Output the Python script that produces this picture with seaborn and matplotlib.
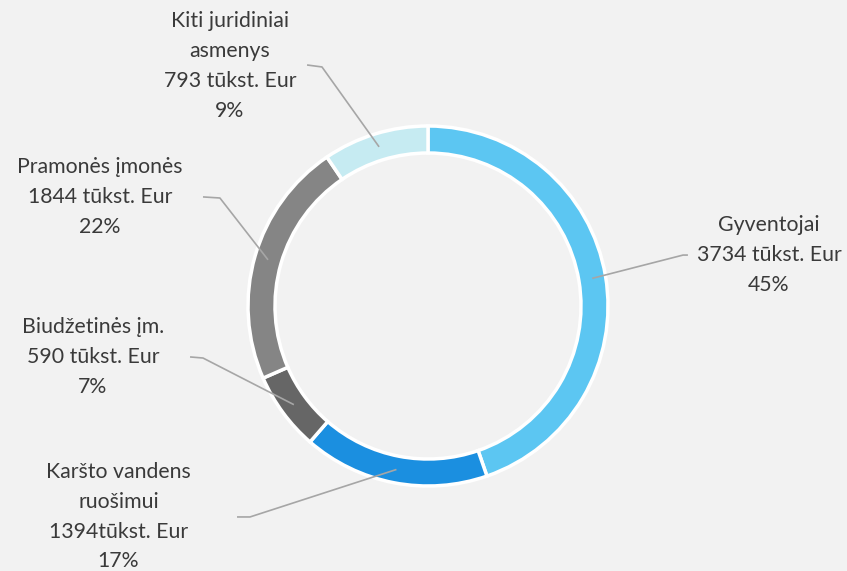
import numpy as np
import matplotlib
matplotlib.use("Agg")
import matplotlib.pyplot as plt
import seaborn as sns

# Data (clockwise from 12 o'clock)
names = ["Gyventojai", "Karšto vandens\nruošimui", "Biudžetinės įm.",
         "Pramonės įmonės", "Kiti juridiniai\nasmenys"]
values = [3734, 1394, 590, 1844, 793]
unit_sep = [" ", "", " ", " ", " "]   # the hot water label has no space
colors = ["#5cc6f2", "#1b8fe0", "#666666", "#858585", "#c6ebf2"]

# label layout (data units, donut radius = 1)
text_pos = [(1.894, 0.283), (-1.72, -1.17), (-1.862, -0.283), (-1.822, 0.606), (-1.1, 1.333)]
line_end = [(1.444, 0.283), (-1.061, -1.172), (-1.322, -0.283), (-1.25, 0.606), (-0.672, 1.339)]
line_knee = [(1.417, 0.283), (-0.989, -1.172), (-1.25, -0.289), (-1.156, 0.6), (-0.589, 1.328)]

sns.set_theme(style="white")
plt.rcParams["font.family"] = ["Lato", "DejaVu Sans"]

bg = "#f2f2f2"
fig = plt.figure(figsize=(8.47, 5.71), dpi=100, facecolor=bg)
ax = fig.add_axes([0, 0, 1, 1])
ax.set_facecolor(bg)

ring = 0.15
wedges, _ = ax.pie(values, colors=colors, startangle=90, counterclock=False,
                   radius=1.0, wedgeprops=dict(width=ring, edgecolor="white", linewidth=2.5))

total = sum(values)
r_mid = 1 - ring / 2
for i, w in enumerate(wedges):
    ang = np.deg2rad((w.theta1 + w.theta2) / 2)
    ax_, ay_ = r_mid * np.cos(ang), r_mid * np.sin(ang)
    pct = round(values[i] / total * 100)
    label = f"{names[i]}\n{values[i]}{unit_sep[i]}tūkst. Eur\n{pct}%"
    ax.plot([line_end[i][0], line_knee[i][0], ax_], [line_end[i][1], line_knee[i][1], ay_],
            color="#a6a6a6", lw=1.2, solid_capstyle="butt")
    ax.text(text_pos[i][0], text_pos[i][1], label, ha="center", va="center",
            fontsize=15.3, color="#3a3a3a", linespacing=1.62)

# map: center at (428, 306) px, radius 180 px
ax.set_xlim((0 - 428) / 180, (847 - 428) / 180)
ax.set_ylim((306 - 571) / 180, 306 / 180)
ax.set_aspect("auto")
ax.axis("off")

fig.savefig("out.png", dpi=100, facecolor=bg)
